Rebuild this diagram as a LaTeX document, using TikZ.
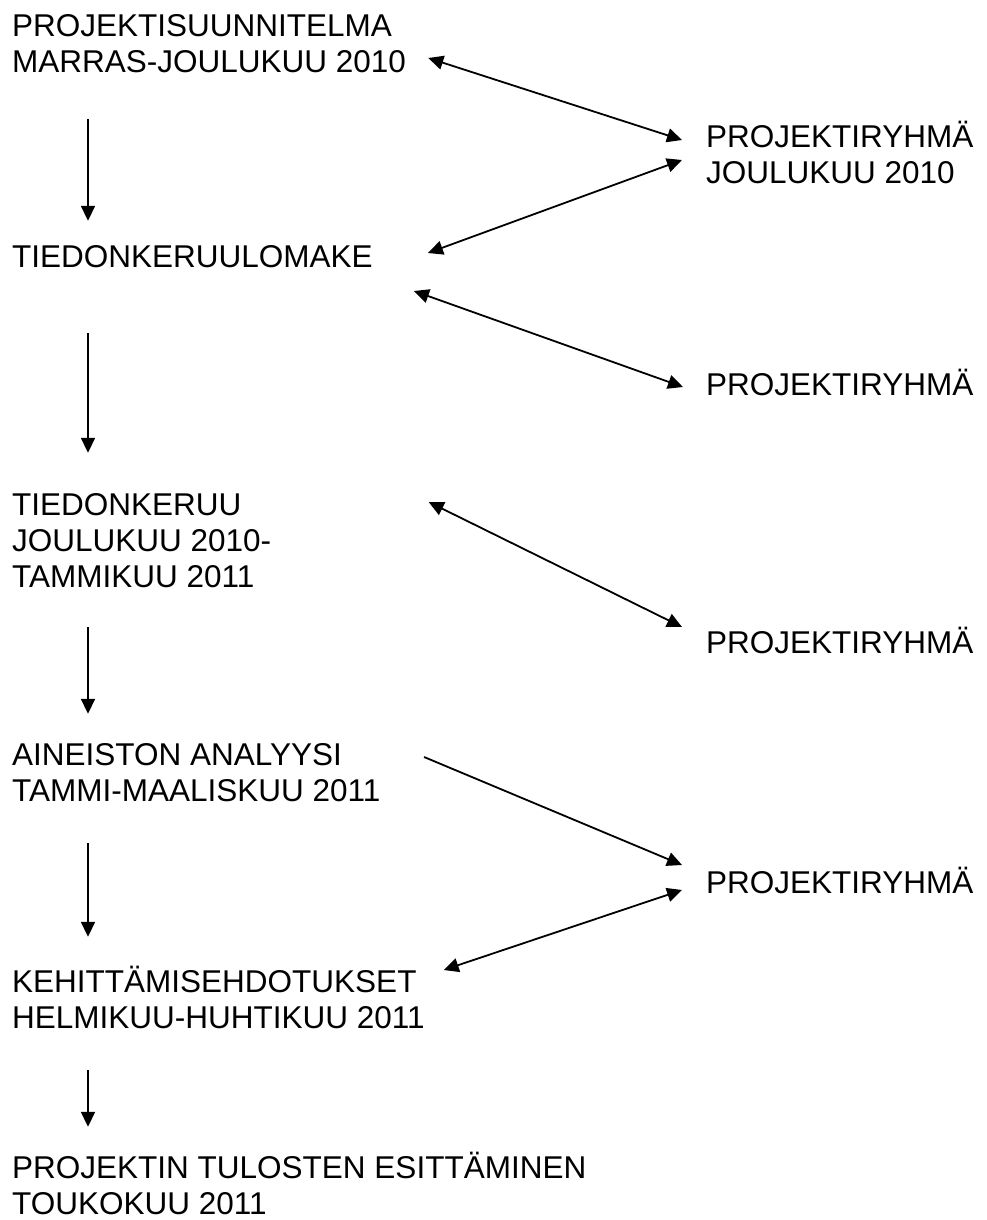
\documentclass[tikz,border=0pt]{standalone}
\usepackage{fontspec}
\setmainfont{Liberation Sans}
\usetikzlibrary{arrows.meta}

\begin{document}
\begin{tikzpicture}[x=1pt, y=-1pt,
  txt/.style={anchor=base west, inner sep=0pt, text height=22pt, text depth=0pt,
    font=\fontsize{31.5}{36}\selectfont},
  flowarrow/.style={line width=1.8pt, -{Triangle[length=15pt,width=14pt]}},
  linkarrow/.style={line width=1.8pt, {Triangle[length=15pt,width=14pt]}-{Triangle[length=15pt,width=14pt]}}]

% Page
\useasboundingbox (0,0) rectangle (986,1220);

% Phases (left column)
\node[txt] (plan1) at (12,37) {PROJEKTISUUNNITELMA};
\node[txt] (plan2) at (12,73) {MARRAS-JOULUKUU 2010};
\node[txt] (form) at (12,267) {TIEDONKERUULOMAKE};
\node[txt] (coll1) at (12,515) {TIEDONKERUU};
\node[txt] (coll2) at (12,551) {JOULUKUU 2010-};
\node[txt] (coll3) at (12,587) {TAMMIKUU 2011};
\node[txt] (anal1) at (12,765) {AINEISTON ANALYYSI};
\node[txt] (anal2) at (12,801) {TAMMI-MAALISKUU 2011};
\node[txt] (dev1) at (12,992) {KEHITTÄMISEHDOTUKSET};
\node[txt] (dev2) at (12,1028) {HELMIKUU-HUHTIKUU 2011};
\node[txt] (res1) at (12,1178) {PROJEKTIN TULOSTEN ESITTÄMINEN};
\node[txt] (res2) at (12,1214) {TOUKOKUU 2011};

% Project group (right column)
\node[txt] (teamA1) at (706,147) {PROJEKTIRYHMÄ};
\node[txt] (teamA2) at (706,183) {JOULUKUU 2010};
\node[txt] (teamB) at (706,395) {PROJEKTIRYHMÄ};
\node[txt] (teamC) at (706,653) {PROJEKTIRYHMÄ};
\node[txt] (teamD) at (706,893) {PROJEKTIRYHMÄ};

% Downward flow
\coordinate (col) at (88,0);
\foreach \a/\b/\s/\e in {plan2/form/46/24, form/coll1/66/40, coll3/anal1/40/29,
  anal2/dev1/42/33, dev2/res1/42/29} {
    \draw[flowarrow, shorten <=\s pt, shorten >=\e pt] (\a.south -| col) -- (\b.north -| col);
}

% Links to the project group
\draw[linkarrow] ([xshift=22pt,yshift=4pt]plan2.east) -- ([xshift=-24pt,yshift=-4pt]teamA1.west);
\draw[linkarrow] ([xshift=-24pt,yshift=12pt]teamA2.west) -- ([xshift=55pt,yshift=3pt]form.east);
\draw[linkarrow] ([xshift=41pt,yshift=-35pt]form.east) -- ([xshift=-23pt,yshift=-3pt]teamB.west);
\draw[linkarrow] ([xshift=187pt,yshift=2pt]coll1.east) -- ([xshift=-24pt,yshift=15pt]teamC.west);
\draw[flowarrow] ([xshift=82pt,yshift=-3pt]anal1.east) -- ([xshift=-24pt,yshift=17pt]teamD.west);
\draw[linkarrow] ([xshift=-24pt,yshift=-8pt]teamD.west) -- ([xshift=27pt,yshift=11pt]dev1.east);

\end{tikzpicture}
\end{document}
